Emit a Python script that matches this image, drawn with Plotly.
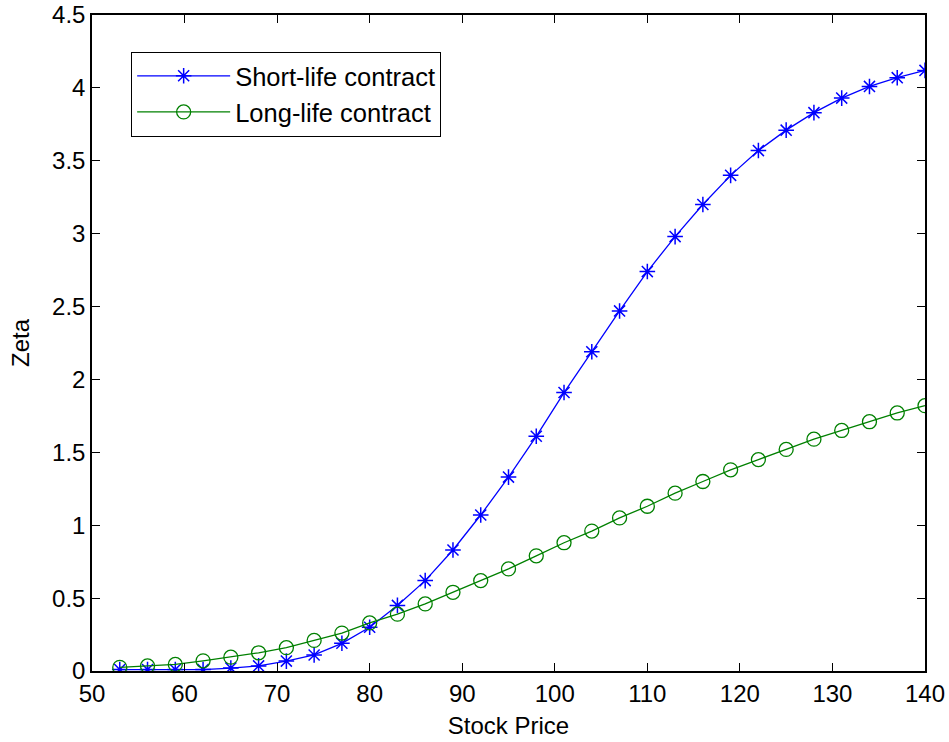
import plotly.graph_objects as go

stock_price = [53, 56, 59, 62, 65, 68, 71, 74, 77, 80, 83, 86, 89, 92, 95, 98,
               101, 104, 107, 110, 113, 116, 119, 122, 125, 128, 131, 134, 137, 140]
short_life = [0.01, 0.01, 0.01, 0.01, 0.02, 0.035, 0.068, 0.11, 0.19, 0.30, 0.45, 0.62,
              0.83, 1.07, 1.33, 1.61, 1.91, 2.19, 2.47, 2.74, 2.98, 3.20, 3.40, 3.57,
              3.71, 3.83, 3.93, 4.01, 4.07, 4.12]
long_life = [0.025, 0.035, 0.045, 0.07, 0.095, 0.125, 0.16, 0.21, 0.26, 0.33, 0.39, 0.46,
             0.54, 0.62, 0.70, 0.79, 0.88, 0.96, 1.05, 1.13, 1.22, 1.30, 1.38, 1.45,
             1.52, 1.59, 1.65, 1.71, 1.77, 1.82]
x_ticks = [50, 60, 70, 80, 90, 100, 110, 120, 130, 140]
y_ticks = [0, 0.5, 1, 1.5, 2, 2.5, 3, 3.5, 4, 4.5]
y_tick_labels = ["0", "0.5", "1", "1.5", "2", "2.5", "3", "3.5", "4", "4.5"]

FONT = "Liberation Sans, Arial, sans-serif"
FS = 24

fig = go.Figure()
fig.add_trace(go.Scatter(
    x=stock_price, y=short_life, mode="lines+markers", name="Short-life contract",
    line=dict(color="#0000ff", width=1.3),
    marker=dict(symbol="asterisk-open", size=13, color="#0000ff",
                line=dict(color="#0000ff", width=1.5)),
))
fig.add_trace(go.Scatter(
    x=stock_price, y=long_life, mode="lines+markers", name="Long-life contract",
    line=dict(color="#008000", width=1.3),
    marker=dict(symbol="circle-open", size=14, color="#008000",
                line=dict(color="#008000", width=1.3)),
))

axis_common = dict(
    showgrid=False, zeroline=False, showline=True, linecolor="black", linewidth=1.5,
    mirror="ticks", ticks="inside", ticklen=8, tickwidth=1, tickcolor="black",
    tickfont=dict(family=FONT, size=FS, color="black"), automargin=False,
)
fig.update_xaxes(range=[50, 140], tickvals=x_ticks,
                 title=dict(text="Stock Price", font=dict(family=FONT, size=FS, color="black"), standoff=12),
                 **axis_common)
fig.update_yaxes(range=[0, 4.5], tickvals=y_ticks, ticktext=y_tick_labels,
                 title=dict(text="Zeta", font=dict(family=FONT, size=FS, color="black"), standoff=16),
                 **axis_common)

fig.update_layout(
    width=949, height=742,
    margin=dict(l=92, r=24, t=15, b=71),
    paper_bgcolor="white", plot_bgcolor="white",
    font=dict(family=FONT, size=FS, color="black"),
    showlegend=True,
    legend=dict(x=0.047, y=0.944, xanchor="left", yanchor="top",
                bordercolor="black", borderwidth=1, bgcolor="white",
                font=dict(family=FONT, size=25.5, color="black"),
                itemwidth=93, tracegroupgap=0),
)

fig.write_html("out.html")
